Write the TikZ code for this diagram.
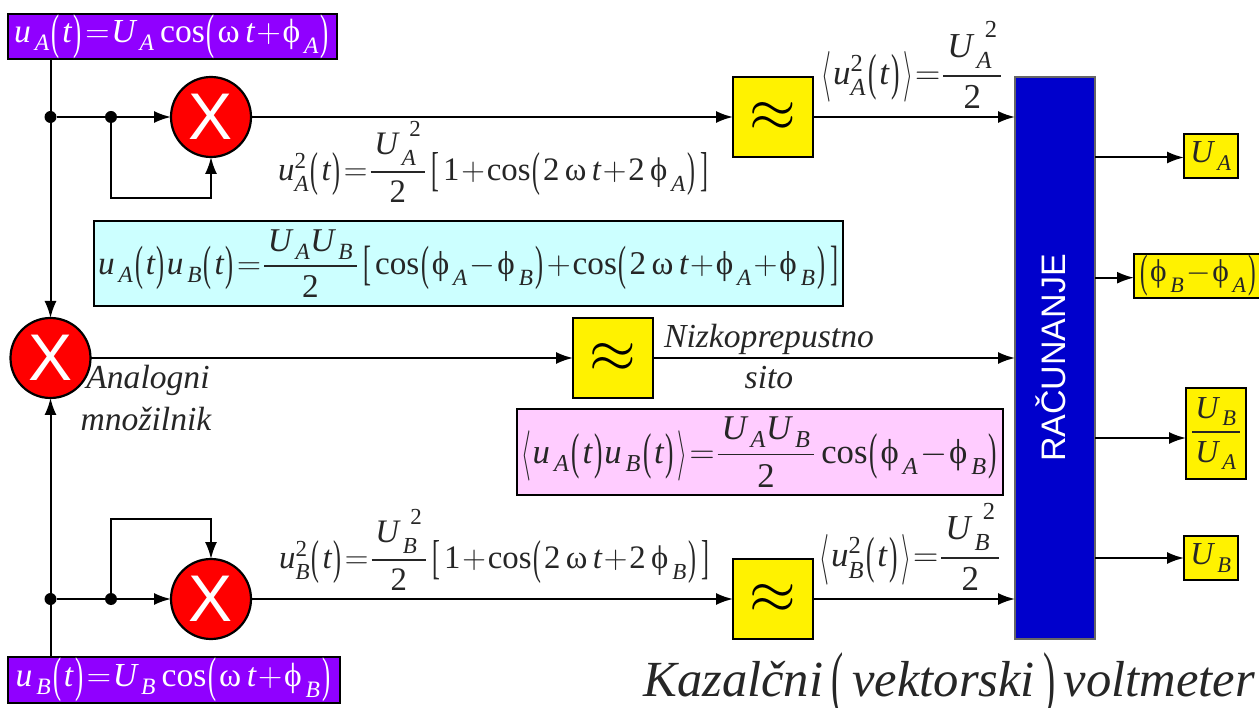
\documentclass[tikz,border=0pt]{standalone}
\usepackage{fix-cm}
\usepackage{amsmath}
\usepackage{graphicx}
\usepackage{fontspec}
\setmainfont{Liberation Serif}
\newfontfamily\sansf{Liberation Sans}
\usetikzlibrary{arrows.meta,calc}
\newcommand\I[1]{\text{\itshape #1}}
\newcommand\Ph{\text{ϕ}}
\newcommand\Om{\text{ω}}
\newcommand\Co{\text{cos}}
\newcommand\Two{\text{2}}
\newcommand\Sb[1]{\text{\raisebox{-0.12em}{\itshape #1}}}
\newcommand\Sp{\text{\raisebox{0.25em}{2}}}
\newcommand\Ua{\I{U}_{\,\Sb{A}}}
\newcommand\Ub{\I{U}_{\,\Sb{B}}}
\newcommand\ua{\I{u}_{\,\Sb{A}}}
\newcommand\ub{\I{u}_{\,\Sb{B}}}
\newcommand\Pa{\Ph_{\,\Sb{A}}}
\newcommand\Pb{\Ph_{\,\Sb{B}}}
\newcommand\UUa{\I{U}_{\,\Sb{A}}^{\mkern9mu\Sp}}
\newcommand\UUb{\I{U}_{\,\Sb{B}}^{\mkern9mu\Sp}}
\newcommand\uua{\I{u}_{\Sb{A}}^{\Two}}
\newcommand\uub{\I{u}_{\Sb{B}}^{\Two}}
\newcommand\T{\I{t}}
\newcommand\Eq{\mathrel{\mkern-4mu=\mkern-4mu}}
\newcommand\Pl{\mathbin{\mkern-3mu+\mkern-3mu}}
\newcommand\Mi{\mathbin{\mkern-3mu-\mkern-3mu}}
\newcommand\tallp[1]{\text{\raisebox{-0.16em}{\scalebox{0.72}[1.45]{#1}}}}
\newcommand\Lp{\mathopen{\mkern1mu\tallp{(}\mkern1.5mu}}
\newcommand\Rp{\mathclose{\mkern1mu\tallp{)}\mkern1mu}}
\newcommand\Lb{\mathopen{\mkern3mu\tallp{[}\mkern2mu}}
\newcommand\Rb{\mathclose{\mkern2mu\tallp{]}}}
\newcommand\Ang{\mathopen{\tallp{$\langle$}\mkern1mu}}
\newcommand\Gna{\mathclose{\mkern1mu\tallp{$\rangle$}}}
\newcommand\Tt{\Lp\T\Rp}
\newcommand\Fr[2]{\genfrac{}{}{1.9pt}{0}{\mkern2mu#1\mkern2mu}{#2}}
\newcommand\fs[1]{\fontsize{#1}{#1}\selectfont}
\tikzset{
  x=1pt,y=-1pt,
  every node/.style={inner sep=0pt,outer sep=0pt},
  conn/.style={line width=2pt,draw=black},
  arr/.style={conn,-{Latex[length=17pt,width=12pt]}},
  srcbox/.style={draw=black,line width=2.2pt,fill=srcpurple,text=white,anchor=center},
  mult/.style={circle,draw=black,line width=2.2pt,fill=red,minimum size=80pt,text=white,font=\sansf\fs{66}},
  filt/.style={draw=black,line width=2.2pt,fill=yellow,minimum size=80pt},
  outbox/.style={draw=black,line width=2.2pt,fill=yellow,text=black!85},
  dot/.style={circle,fill=black,minimum size=12pt},
  formula/.style={text=black!85},
  note/.style={text=black!85,font=\itshape\fs{33.6},align=center},
}
\definecolor{srcpurple}{HTML}{9000FF}
\definecolor{calcblue}{HTML}{0000CC}
\definecolor{cyanbox}{HTML}{CCFFFF}
\definecolor{pinkbox}{HTML}{FFCCFF}
\begin{document}
\begin{tikzpicture}
\useasboundingbox (0,0) rectangle (1259,708);
% sources
\node[srcbox,minimum width=329pt,minimum height=45pt] (srcA) at (172.5,36.5)
  {\fs{33.6}$\ua\Tt\Eq\Ua\,\Co\Lp\Om\,\T\Pl\Pa\Rp$};
\node[srcbox,minimum width=332pt,minimum height=46pt] (srcB) at (174,680)
  {\fs{33.6}$\ub\Tt\Eq\Ub\,\Co\Lp\Om\,\T\Pl\Pb\Rp$};
% multipliers
\node[mult] (mA) at (211,117) {X};
\node[mult] (mM) at (50.5,358) {X};
\node[mult] (mB) at (211,599) {X};
% filters
\node[filt] (fA) at (773,117) {\fs{60}$\approx$};
\node[filt] (fM) at (613,358) {\fs{60}$\approx$};
\node[filt] (fB) at (773,599) {\fs{60}$\approx$};
% calc
\node[draw=black!60,line width=2.2pt,fill=calcblue,minimum width=80pt,minimum height=562pt] (calc) at (1055,358) {};
\node[rotate=90,text=white,font=\sansf\fs{34}] (calcT) at (1051,358) {RAČUNANJE};
% outputs
\node[outbox,minimum width=54pt,minimum height=44pt] (oA) at (1211,156) {\fs{32}$\Ua$};
\node[outbox,minimum width=128pt,minimum height=44pt] (oP) at (1198,276) {\fs{31.5}$\Lp\Pb\Mi\Pa\Rp$};
\node[outbox,minimum width=60pt,minimum height=91pt] (oR) at (1216,433.5) {\fs{32}$\Fr{\Ub}{\Ua}$};
\node[outbox,minimum width=54pt,minimum height=44pt] (oB) at (1211,558) {\fs{32}$\Ub$};
% dots
\node[dot] (d1) at (50.5,117) {};
\node[dot] (d2) at (111,117) {};
\node[dot] (d3) at (50.5,599) {};
\node[dot] (d4) at (111,599) {};
\coordinate (c1) at (111,198);
\coordinate (c2) at (111,519);
\coordinate (yA) at (0,157.5);
\coordinate (yP) at (0,277.7);
\coordinate (yR) at (0,438);
\coordinate (yB) at (0,558);
% connectors
\draw[arr] (srcA.south -| mM) -- (mM.north);
\draw[arr] (srcB.north -| mM) -- (mM.south);
\draw[conn] (d1) -- (d2);
\draw[conn] (d3) -- (d4);
\draw[arr] (d2) -- (mA.west);
\draw[arr] (d4) -- (mB.west);
\draw[arr] (d2) -- (c1) -| (mA.south);
\draw[arr] (d4) -- (c2) -| (mB.north);
\draw[arr] (mA.east) -- (fA.west);
\draw[arr] (mM.east) -- (fM.west);
\draw[arr] (mB.east) -- (fB.west);
\draw[arr] (fA.east) -- (fA.east -| calc.west);
\draw[arr] (fM.east) -- (fM.east -| calc.west);
\draw[arr] (fB.east) -- (fB.east -| calc.west);
\draw[arr] (yA -| calc.east) -- (yA -| oA.west);
\draw[arr] (yP -| calc.east) -- (yP -| oP.west);
\draw[arr] (yR -| calc.east) -- (yR -| oR.west);
\draw[arr] (yB -| calc.east) -- (yB -| oB.west);
% formula boxes
\node[draw=black,line width=2.2pt,fill=cyanbox,minimum width=749pt,minimum height=85pt,text=black!85] (bC) at (468.5,263.5)
  {\fs{33.2}$\ua\Tt\ub\Tt\Eq\Fr{\Ua\Ub}{\Two}\Lb\Co\Lp\Pa\Mi\Pb\Rp\Pl\Co\Lp\Two\,\Om\,\T\Pl\Pa\Pl\Pb\Rp\Rb$};
\node[draw=black,line width=2.2pt,fill=pinkbox,minimum width=486pt,minimum height=86pt,text=black!85] (bP) at (760,452)
  {\fs{34.7}$\Ang\ua\Tt\ub\Tt\Gna\Eq\Fr{\Ua\Ub}{\Two}\,\Co\Lp\Pa\Mi\Pb\Rp$};
% formulas
\node[formula] (f1) at (493.5,162) {\fs{32.8}$\uua\Tt\Eq\Fr{\UUa}{\Two}\Lb\text{1}\Pl\Co\Lp\Two\,\Om\,\T\Pl\Two\,\Pa\Rp\Rb$};
\node[formula] (f2) at (494.5,550) {\fs{32.8}$\uub\Tt\Eq\Fr{\UUb}{\Two}\Lb\text{1}\Pl\Co\Lp\Two\,\Om\,\T\Pl\Two\,\Pb\Rp\Rb$};
\node[formula] (f3) at (912,65) {\fs{35}$\Ang\uua\Tt\Gna\Eq\Fr{\UUa}{\Two}$};
\node[formula] (f4) at (910,547) {\fs{35}$\Ang\uub\Tt\Gna\Eq\Fr{\UUb}{\Two}$};
% notes
\node[note] (n1) at (769,339) {Nizkoprepustno};
\node[note] (n2) at (769,378) {sito};
\node[note] (n3) at (148,380) {Analogni};
\node[note] (n4) at (146,419) {množilnik};
\node[text=black!85,anchor=east] (title) at (1255,686)
  {\fs{50.6}\itshape Kazalčni\,\raisebox{-0.14em}{\normalfont\scalebox{0.72}[1.45]{(}}\,vektorski\,\raisebox{-0.14em}{\normalfont\scalebox{0.72}[1.45]{)}}\,voltmeter};
\end{tikzpicture}
\end{document}
